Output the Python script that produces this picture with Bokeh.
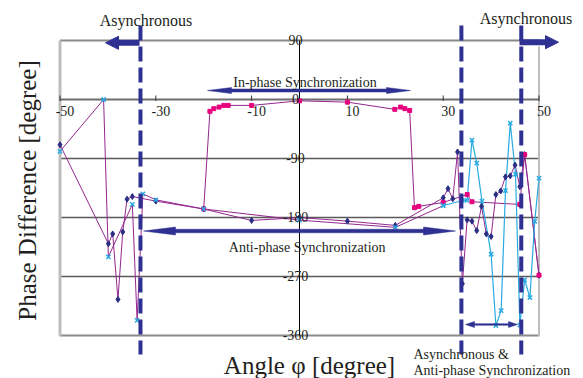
import math
from bokeh.plotting import figure
from bokeh.models import Range1d, Arrow, NormalHead
from bokeh.core.properties import value
from bokeh.embed import file_html
from bokeh.resources import INLINE

FONT = "Liberation Serif"

# ---------------- data ----------------
x_ticks = [-50, -30, -10, 10, 30, 50]
x_tick_labels = ["-50", "-30", "-10", "10", "30", "50"]
y_ticks = [90, 0, -90, -180, -270, -360]
y_tick_labels = ["90", "0", "-90", "-180", "-270", "-360"]
grid_levels = [-90, -180, -270]
boundaries = [-33.2, 33.8, 46.3]

# anti-phase sweep (navy markers, purple line)
anti_x = [-50, -39.9, -39, -37.9, -36.9, -36, -34.9, -30, -20, -10, 0, 10, 20,
          30, 31, 32, 33, 34, 35, 36, 37, 38, 39, 40, 41, 42, 43, 44, 45, 46, 47, 50]
anti_y = [-69, -220, -205, -305, -202, -152, -148, -155, -167, -184.5, -180, -185.5, -192,
          -150, -136, -151.5, -80, -281, -183.5, -185.6, -200, -163, -205, -209,
          -145, -139.5, -118, -116.5, -100, -133, -84, -268]

# second sweep, left part (cyan markers, purple line)
xl_x = [-50, -40.9, -39.9, -34.9, -33.9, -32.7, -30, -20, 0, 20, 30]
xl_y = [-79, 0, -240, -160, -337, -144, -153, -167, -184, -195, -162]

# second sweep, right part (cyan markers, cyan line)
xr_x = [30, 34, 35, 36, 37, 38.1, 40, 41, 42.1, 43, 44, 45.1, 46, 47, 48.1, 49.1, 50]
xr_y = [-162, -154, -154, -62, -97, -155, -236, -345, -322, -139, -36, -114, -344,
        -275, -302, -186, -120]

# in-phase branch (magenta markers, purple line)
ip_x = [-20, -18.7, -17.9, -16.8, -15.8, -14.9, -10, 0, 10, 19.9, 21.1, 22, 23,
        24, 24.9, 30, 35, 36, 46, 47, 50]
ip_y = [-167, -18, -14, -11.6, -9, -9, -9, -2, -4, -15, -11.6, -14, -16.7,
        -165, -163, -157, -145, -156, -160, -84, -268]

# ---------------- pixel helpers (for annotation placement) ----------------
X0PX, XSCALE = 299.0, 4.79
Y90PX, YSCALE = 40.0, 0.6556
W, H = 583, 378


def X(px):
    return (px - X0PX) / XSCALE


def Y(py):
    return 90 - (py - Y90PX) / YSCALE


NAVY = "#2e3192"
PURPLE = "#93278f"
CYAN = "#29abe2"
MAGENTA = "#e6007e"
TXT = "#231f20"

p = figure(width=W, height=H, x_range=Range1d(X(0), X(W)),
           y_range=Range1d(Y(H), Y(0)), output_backend="svg",
           toolbar_location=None, x_axis_location=None, y_axis_location=None,
           min_border=0, outline_line_color=None, background_fill_color="white")
p.xgrid.visible = False
p.ygrid.visible = False

# frame lines
p.segment(x0=[-50], y0=[90], x1=[50], y1=[90], line_color="#8a8a8a", line_width=2)
p.segment(x0=[-50] * len(grid_levels), y0=grid_levels, x1=[50] * len(grid_levels),
          y1=grid_levels, line_color="#5a5a5a", line_width=1.6)
p.segment(x0=[-50], y0=[-360], x1=[50], y1=[-360], line_color="#8a8a8a", line_width=2)
p.segment(x0=[-50], y0=[90], x1=[-50], y1=[-361], line_color="#bdbdbd", line_width=3)
p.segment(x0=[50], y0=[Y(46)], x1=[50], y1=[-361], line_color="#bdbdbd", line_width=2)
# axes through the middle
p.segment(x0=[-50], y0=[0], x1=[50], y1=[0], line_color="#6e6e6e", line_width=2)
p.segment(x0=[0], y0=[90], x1=[0], y1=[-360], line_color="#000000", line_width=1)
p.segment(x0=x_ticks, y0=[Y(95)] * len(x_ticks), x1=x_ticks, y1=[Y(100.5)] * len(x_ticks),
          line_color="#333333", line_width=1)

# data lines
p.line(anti_x, anti_y, line_color=PURPLE, line_width=1)
p.line(xl_x, xl_y, line_color=PURPLE, line_width=1)
p.line(ip_x, ip_y, line_color=PURPLE, line_width=1)
p.line(xr_x, xr_y, line_color=CYAN, line_width=1.2)

p.scatter(anti_x, anti_y, marker="diamond", size=6, fill_color="#2b2e83", line_color="#2b2e83")
p.scatter(ip_x, ip_y, marker="square", size=4, fill_color=MAGENTA, line_color=MAGENTA)
p.scatter(xl_x, xl_y, marker="x", size=6, line_color=CYAN, line_width=1.5)
p.scatter(xr_x, xr_y, marker="x", size=6, line_color=CYAN, line_width=1.5)

# boundary dashed lines
p.segment(x0=boundaries, y0=[Y(25)] * 3, x1=boundaries, y1=[Y(354)] * 3,
          line_color=NAVY, line_width=4, line_dash="15 6")


# thin double arrows
def dbl_arrow(x0, x1, yc, sw, hl, hw):
    pts = [(x0, yc), (x0 + hl, yc - hw), (x0 + hl, yc - sw / 2), (x1 - hl, yc - sw / 2),
           (x1 - hl, yc - hw), (x1, yc), (x1 - hl, yc + hw), (x1 - hl, yc + sw / 2),
           (x0 + hl, yc + sw / 2), (x0 + hl, yc + hw)]
    return [X(a) for a, b in pts], [Y(b) for a, b in pts]


for args in [(207, 410, 90, 3, 24, 3), (143, 455, 230.5, 3.5, 32, 4), (465, 517, 324, 1.6, 9, 3)]:
    xs, ys = dbl_arrow(*args)
    p.patch(xs, ys, fill_color=NAVY, line_color=NAVY, line_width=0.5)

# thick arrows
for xs_, xe_, yy in [(139, 105, 42.3), (519, 558, 41.7)]:
    p.add_layout(Arrow(end=NormalHead(size=13, fill_color=NAVY, line_color=NAVY),
                       x_start=X(xs_), y_start=Y(yy), x_end=X(xe_), y_end=Y(yy),
                       line_color=NAVY, line_width=6))

# tick labels
p.text(x=x_ticks, y=[Y(110)] * len(x_ticks), text=x_tick_labels, x_offset=5,
       text_font=value(FONT), text_font_size="14px", text_color=TXT,
       text_align="center", text_baseline="middle")
p.text(x=[X(295)] * len(y_ticks), y=[v + 1.5 for v in y_ticks], text=y_tick_labels,
       text_font=value(FONT), text_font_size="14px", text_color=TXT,
       text_align="center", text_baseline="middle")

# annotations
p.text(x=[X(145.5), X(525.5)], y=[Y(20), Y(18)], text=["Asynchronous", "Asynchronous"],
       text_font=value(FONT), text_font_size="16px", text_color=TXT,
       text_align="center", text_baseline="alphabetic")
p.text(x=[X(304.5), X(306.7)], y=[Y(81.7), Y(246.7)],
       text=["In-phase Synchronization", "Anti-phase Synchronization"],
       text_font=value(FONT), text_font_size="14px", text_color=TXT,
       text_align="center", text_baseline="alphabetic")
p.text(x=[X(413), X(413)], y=[Y(353.5), Y(370)],
       text=["Asynchronous &", "Anti-phase Synchronization"],
       text_font=value(FONT), text_font_size="14px", text_color=TXT,
       text_align="left", text_baseline="alphabetic")
p.text(x=[X(309)], y=[Y(364.5)], text=["Angle \u03c6 [degree]"],
       text_font=value(FONT), text_font_size="25px", text_color=TXT,
       text_align="center", text_baseline="alphabetic")
p.text(x=[X(27)], y=[Y(190)], text=["Phase Difference [degree]"], angle=math.pi / 2,
       text_font=value(FONT), text_font_size="25px", text_color=TXT,
       text_align="center", text_baseline="middle")

open("out.html", "w").write(file_html(p, INLINE))
